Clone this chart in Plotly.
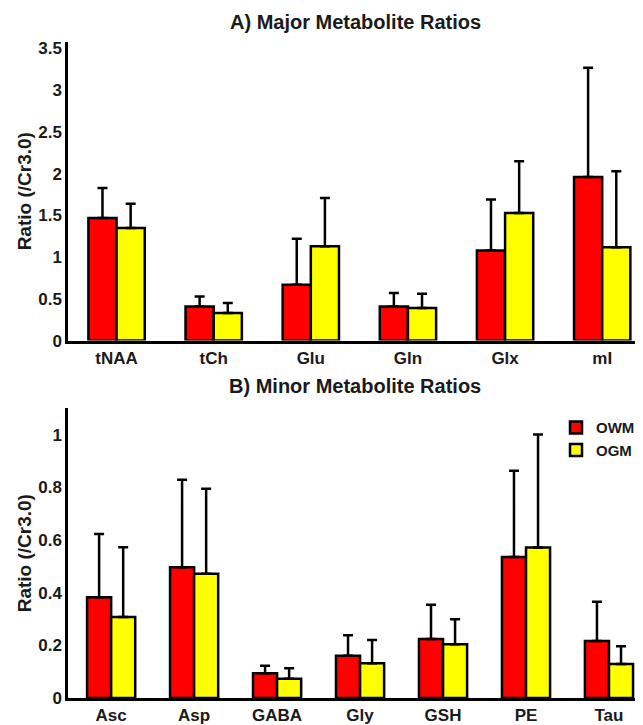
import plotly.graph_objects as go

major_cats = ["tNAA", "tCh", "Glu", "Gln", "Glx", "mI"]
major_owm = [1.47, 0.41, 0.67, 0.41, 1.08, 1.96]
major_owm_sd = [0.36, 0.12, 0.55, 0.16, 0.61, 1.31]
major_ogm = [1.35, 0.33, 1.13, 0.39, 1.53, 1.12]
major_ogm_sd = [0.29, 0.12, 0.58, 0.17, 0.62, 0.91]

minor_cats = ["Asc", "Asp", "GABA", "Gly", "GSH", "PE", "Tau"]
minor_owm = [0.383, 0.497, 0.094, 0.161, 0.224, 0.536, 0.217]
minor_owm_sd = [0.240, 0.332, 0.029, 0.078, 0.130, 0.327, 0.149]
minor_ogm = [0.308, 0.472, 0.073, 0.132, 0.204, 0.572, 0.129]
minor_ogm_sd = [0.265, 0.323, 0.040, 0.089, 0.095, 0.429, 0.068]

major_yticks = [0, 0.5, 1, 1.5, 2, 2.5, 3, 3.5]
major_yticklabels = ["0", "0.5", "1", "1.5", "2", "2.5", "3", "3.5"]
minor_yticks = [0, 0.2, 0.4, 0.6, 0.8, 1]
minor_yticklabels = ["0", "0.2", "0.4", "0.6", "0.8", "1"]

FONT = "Liberation Sans, Arial, Helvetica, sans-serif"
RED = "#ff0000"
YEL = "#ffff00"
TXT = "#1a1a1a"


def bar(x, y, sd, name, color, xa, ya, show):
    return go.Bar(
        x=x, y=y, name="<b>%s</b>" % name, xaxis=xa, yaxis=ya, showlegend=show,
        legendgroup=name,
        marker=dict(color=color, line=dict(color="black", width=2.5)),
        error_y=dict(type="data", symmetric=False, array=sd,
                     arrayminus=[0] * len(sd), color="black",
                     thickness=2.5, width=5),
    )


fig = go.Figure()
fig.add_trace(bar(major_cats, major_owm, major_owm_sd, "OWM", RED, "x", "y", False))
fig.add_trace(bar(major_cats, major_ogm, major_ogm_sd, "OGM", YEL, "x", "y", False))
fig.add_trace(bar(minor_cats, minor_owm, minor_owm_sd, "OWM", RED, "x2", "y2", True))
fig.add_trace(bar(minor_cats, minor_ogm, minor_ogm_sd, "OGM", YEL, "x2", "y2", True))

# page has an 8px body margin: figure occupies page pixels (8..643, 8..725)
OFF = 8
W = 643 - OFF
H = 725.0 - OFF


def py(page_y):
    return (H - (page_y - OFF)) / H


axis_common = dict(showline=True, linecolor="black", linewidth=2.5,
                   showgrid=False, zeroline=False, ticks="",
                   tickfont=dict(family=FONT, size=17, color=TXT))

ytitle = dict(text="<b>Ratio (/Cr3.0)</b>", font=dict(family=FONT, size=19, color=TXT),
              standoff=2)

fig.update_layout(
    width=W, height=H,
    margin=dict(l=68 - OFF, r=0, t=0, b=0),
    paper_bgcolor="white", plot_bgcolor="white",
    barmode="group", bargap=0.42, bargroupgap=0,
    font=dict(family=FONT, color=TXT),
    xaxis=dict(domain=[0, 1], anchor="y", range=[-0.5, 5.42],
               tickvals=major_cats, ticktext=["<b>%s</b>" % c for c in major_cats],
               **axis_common),
    yaxis=dict(domain=[py(342), py(42)], anchor="x", range=[0, 3.58],
               tickvals=major_yticks, ticktext=["<b>%s</b>" % t for t in major_yticklabels],
               title=ytitle, automargin=False, **axis_common),
    xaxis2=dict(domain=[0, 1], anchor="y2", range=[-0.52, 6.41],
                tickvals=minor_cats, ticktext=["<b>%s</b>" % c for c in minor_cats],
                **axis_common),
    yaxis2=dict(domain=[py(701), py(410)], anchor="x2", range=[0, 1.1],
                tickvals=minor_yticks, ticktext=["<b>%s</b>" % t for t in minor_yticklabels],
                title=ytitle, automargin=False, **axis_common),
    legend=dict(x=(556 - 68) / 575, y=py(413), xanchor="left", yanchor="top",
                bgcolor="rgba(0,0,0,0)", borderwidth=0,
                font=dict(family=FONT, size=15, color=TXT),
                tracegroupgap=0, itemwidth=30),
    annotations=[
        dict(text="<b>A) Major Metabolite Ratios</b>", x=(355 - 68) / 575, y=py(9),
             xref="paper", yref="paper", showarrow=False, xanchor="center", yanchor="top",
             font=dict(family=FONT, size=20, color=TXT)),
        dict(text="<b>B) Minor Metabolite Ratios</b>", x=(355 - 68) / 575, y=py(375),
             xref="paper", yref="paper", showarrow=False, xanchor="center", yanchor="top",
             font=dict(family=FONT, size=20, color=TXT)),
    ],
)

fig.write_html("out.html")
